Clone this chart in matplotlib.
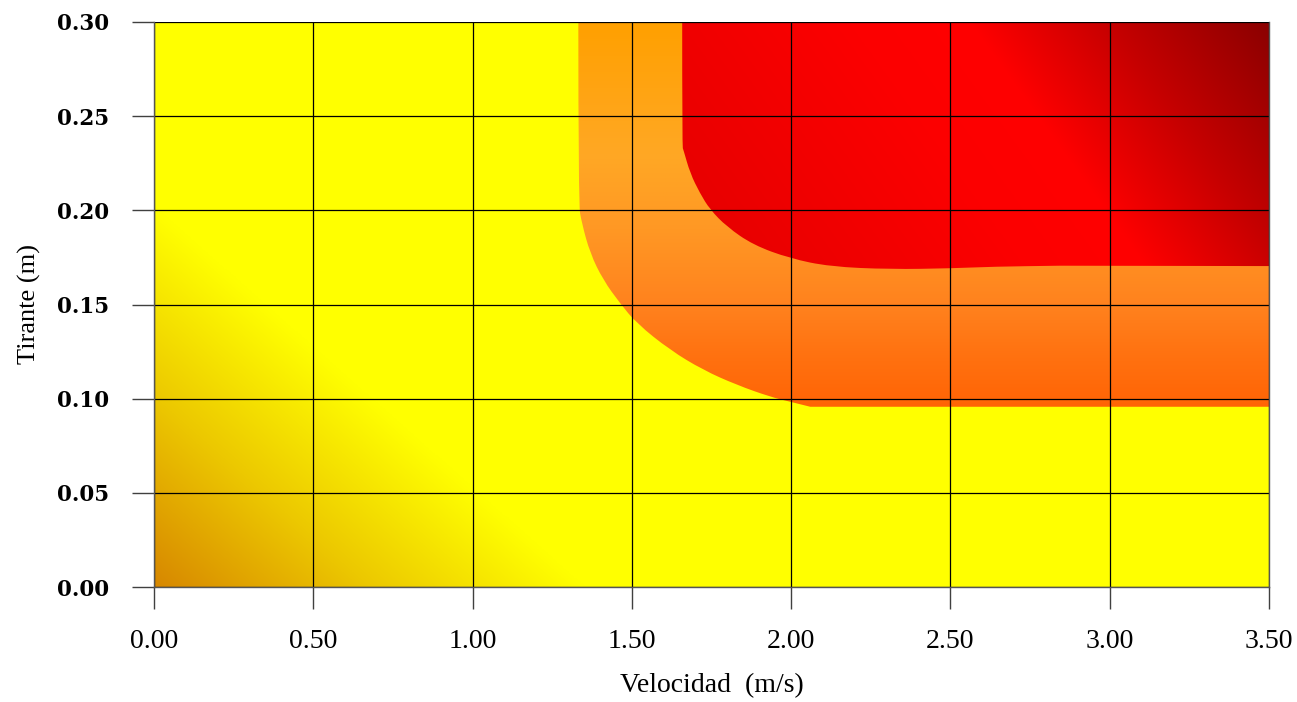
import numpy as np
import matplotlib as mpl
mpl.use("agg")
import matplotlib.pyplot as plt
from matplotlib.patches import PathPatch
from matplotlib.path import Path

mpl.rcParams['font.family'] = 'Liberation Serif'

# axis ticks
x_ticks = [0.0, 0.5, 1.0, 1.5, 2.0, 2.5, 3.0, 3.5]
y_ticks = [0.0, 0.05, 0.10, 0.15, 0.20, 0.25, 0.30]
x_labels = ["0.00", "0.50", "1.00", "1.50", "2.00", "2.50", "3.00", "3.50"]
y_labels = ["0.00", "0.05", "0.10", "0.15", "0.20", "0.25", "0.30"]

# zone boundaries (velocity m/s, depth m)
orange_v = [1.332, 1.332, 1.343, 1.369, 1.410, 1.463, 1.515, 1.620, 1.724, 1.829,
            1.934, 1.996, 2.060, 3.50]
orange_d = [0.300, 0.2037, 0.1931, 0.1772, 0.1630, 0.1506, 0.1400, 0.1258, 0.1152, 0.1073,
            0.1010, 0.0984, 0.0957, 0.0957]

red_v = [1.658, 1.658, 1.662, 1.683, 1.714, 1.745, 1.798, 1.881, 1.996, 2.122,
         2.310, 2.504, 2.634, 2.844, 3.50]
red_d = [0.300, 0.2340, 0.2320, 0.2197, 0.2090, 0.2005, 0.1913, 0.1816, 0.1745, 0.1701,
         0.1687, 0.1692, 0.1701, 0.1706, 0.1704]

xmin, xmax, ymin, ymax = 0.0, 3.5, 0.0, 0.30

# colour stops
yel_t = [0.0, 0.5, 1.0]
yel_rgb = [(215, 135, 0), (236, 200, 0), (255, 255, 0)]
ora_d = [0.0957, 0.12, 0.15, 0.19, 0.23, 0.30]
ora_rgb = [(255, 100, 5), (255, 112, 15), (255, 130, 30), (255, 152, 36), (255, 168, 36), (255, 160, 0)]
red_s = [0.0, 160.0, 300.0, 420.0, 700.0, 900.0]
red_r = [139, 198, 255, 252, 232, 228]

fig = plt.figure(figsize=(12.97, 7.02), dpi=100)
ax = fig.add_axes([154 / 1297, 1 - 587 / 702, 1115 / 1297, 565 / 702])

nx, ny = 800, 450
V, D = np.meshgrid(np.linspace(xmin, xmax, nx), np.linspace(ymin, ymax, ny))
px = V / xmax * 1115
py = D / ymax * 565


def ramp(t, stops, rgbs):
    out = np.zeros(t.shape + (3,))
    for k in range(3):
        out[..., k] = np.interp(t, stops, [c[k] for c in rgbs]) / 255
    return out


def zone_path(vs, ds):
    # smooth outline: read points used as quadratic control points
    pts = list(zip(vs, ds))
    verts = [pts[0]]
    codes = [Path.MOVETO]
    for i in range(1, len(pts) - 2):
        mid = ((pts[i][0] + pts[i + 1][0]) / 2, (pts[i][1] + pts[i + 1][1]) / 2)
        verts += [pts[i], mid]
        codes += [Path.CURVE3, Path.CURVE3]
    verts += [pts[-2], pts[-1], (xmax, ymax), pts[0]]
    codes += [Path.LINETO, Path.LINETO, Path.LINETO, Path.CLOSEPOLY]
    return Path(verts, codes)


# yellow background, darker toward the origin
yel_img = ramp(np.clip(px / 430 + py / 380, 0, 1), yel_t, yel_rgb)
# orange band, vertical gradient
ora_img = ramp(D, ora_d, ora_rgb)
# red zone, darker toward top-right corner
s = (1115 - px) + 0.72 * (565 - py)
red_img = np.zeros(V.shape + (3,))
red_img[..., 0] = np.interp(s, red_s, red_r) / 255

ext = [xmin, xmax, ymin, ymax]
ax.imshow(yel_img, extent=ext, origin="lower", aspect="auto", zorder=0)

ora_patch = PathPatch(zone_path(orange_v, orange_d), transform=ax.transData,
                      facecolor="none", edgecolor="none")
red_patch = PathPatch(zone_path(red_v, red_d), transform=ax.transData,
                      facecolor="none", edgecolor="none")
im = ax.imshow(ora_img, extent=ext, origin="lower", aspect="auto", zorder=0.1)
im.set_clip_path(ora_patch)
im = ax.imshow(red_img, extent=ext, origin="lower", aspect="auto", zorder=0.2)
im.set_clip_path(red_patch)

ax.set_xlim(xmin, xmax)
ax.set_ylim(ymin, ymax)
ax.set_xticks(x_ticks)
ax.set_xticklabels(x_labels, fontsize=20)
ax.set_yticks(y_ticks)
ax.set_yticklabels(y_labels, fontsize=15.5, fontweight="bold", family="DejaVu Serif")
ax.tick_params(axis="x", direction="out", length=16, width=1, color="#404040", pad=14)
ax.tick_params(axis="y", direction="out", length=16, width=1, color="#404040", pad=16)

ax.grid(True, color="black", linewidth=0.9)
ax.spines["top"].set_visible(False)
for side in ["left", "bottom", "right"]:
    ax.spines[side].set_color("#555555")
    ax.spines[side].set_linewidth(1)

ax.set_xlabel("Velocidad  (m/s)", fontsize=20, labelpad=14)
ax.set_ylabel("Tirante (m)", fontsize=19, labelpad=12)

fig.savefig("out.png", dpi=100)
